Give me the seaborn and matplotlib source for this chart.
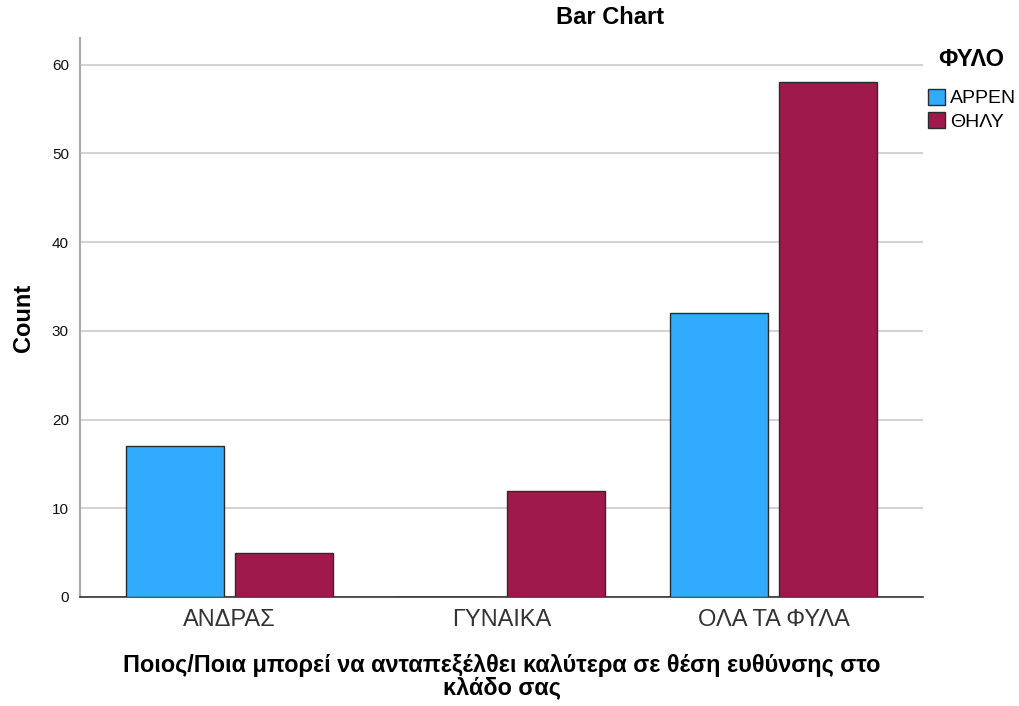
import pandas as pd
import matplotlib.pyplot as plt
import seaborn as sns

# Values
categories = ["ΑΝΔΡΑΣ", "ΓΥΝΑΙΚΑ", "ΟΛΑ ΤΑ ΦΥΛΑ"]
groups = ["ΑΡΡΕΝ", "ΘΗΛΥ"]
counts_male = [17, 0, 32]
counts_female = [5, 12, 58]
y_ticks = [0, 10, 20, 30, 40, 50, 60]

sns.set_theme(style="white")
plt.rcParams["font.family"] = ["Liberation Sans", "DejaVu Sans"]
plt.rcParams["text.color"] = "black"
plt.rcParams["axes.labelcolor"] = "black"

df = pd.DataFrame({
    "answer": categories * 2,
    "sex": [groups[0]] * len(categories) + [groups[1]] * len(categories),
    "count": counts_male + counts_female,
})

fig = plt.figure(figsize=(10.19, 7.06), dpi=100)
ax = fig.add_axes([0.0785, 0.1544, 0.8273, 0.7918])

palette = {"ΑΡΡΕΝ": "#31abfe", "ΘΗΛΥ": "#a0194b"}
sns.barplot(
    data=df,
    x="answer",
    y="count",
    hue="sex",
    order=categories,
    hue_order=groups,
    palette=palette,
    gap=0.1,
    edgecolor="#2b2b2b",
    linewidth=1.0,
    saturation=1,
    ax=ax,
    zorder=3,
)

ax.set_xlim(-0.55, 2.55)
ax.set_ylim(0, 63)
ax.set_yticks(y_ticks)
ax.yaxis.grid(True, color="#d3d3d3", linewidth=1.5, zorder=0)
ax.set_axisbelow(True)

for side in ["top", "right"]:
    ax.spines[side].set_visible(False)
ax.spines["left"].set_color("#aaaaaa")
ax.spines["left"].set_linewidth(1.5)
ax.spines["bottom"].set_color("#333333")
ax.spines["bottom"].set_linewidth(1.2)

ax.tick_params(axis="y", length=0, labelsize=11, pad=8, labelcolor="#111111")
ax.tick_params(axis="x", length=0, labelsize=17, pad=9, labelcolor="#333333")

ax.set_ylabel("Count", fontsize=17, fontweight="bold", labelpad=12)
ax.set_xlabel("Ποιος/Ποια μπορεί να ανταπεξέλθει καλύτερα σε θέση ευθύνσης στο\nκλάδο σας",
              fontsize=16.9, fontweight="bold", labelpad=16, linespacing=1.0)

fig.text(610 / 1019, 1 - 18 / 706, "Bar Chart", ha="center", va="center",
         fontsize=17, fontweight="bold")

# legend title drawn separately to get the wider gap above the entries
fig.text(971 / 1019, 1 - 60 / 706, "ΦΥΛΟ", ha="center", va="center",
         fontsize=17, fontweight="bold")
handles, labels = ax.get_legend_handles_labels()
ax.legend_.remove()
fig.legend(
    handles, labels,
    loc="upper left",
    bbox_to_anchor=(928 / 1019, 1 - 89 / 706),
    frameon=False,
    fontsize=14,
    handlelength=0.85,
    handleheight=0.85,
    handletextpad=0.3,
    labelspacing=0.25,
    borderpad=0,
    borderaxespad=0,
)

fig.savefig("out.png", dpi=100)
